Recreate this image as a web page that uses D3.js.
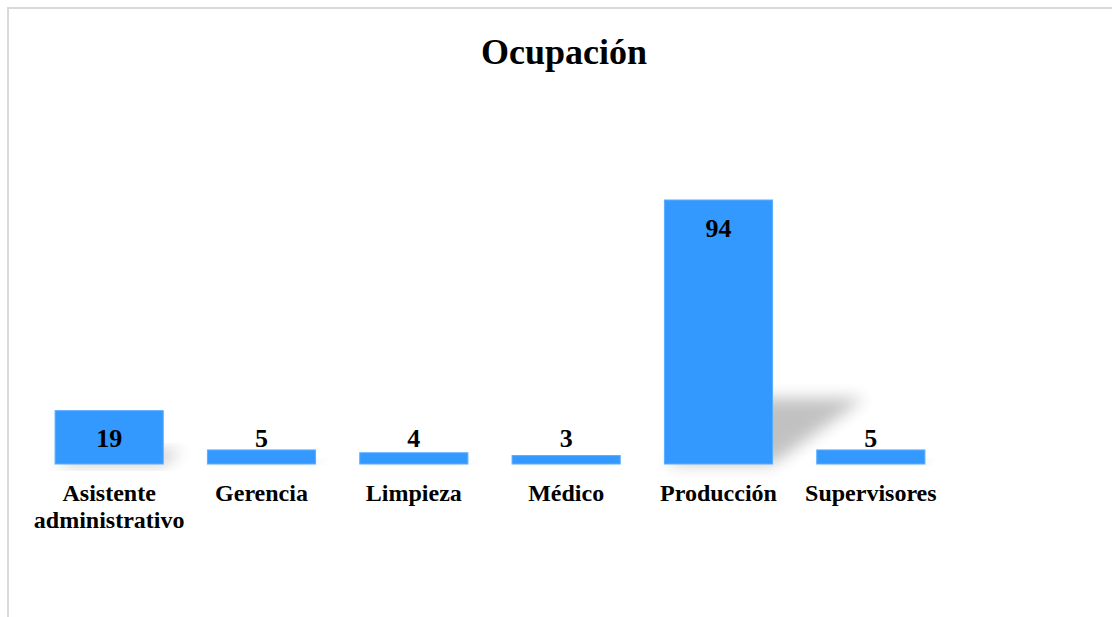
<!DOCTYPE html>
<html lang="es">
<head>
    <meta charset="UTF-8">
    <title>Ocupación</title>
    <script src="https://d3js.org/d3.v7.min.js"></script>
    <style>
        body { margin: 0; background: #fff; }
        text { font-family: "Liberation Serif", "Times New Roman", serif; font-weight: bold; fill: #000; }
    </style>
</head>
<body>
    <svg width="1112" height="617"></svg>

    <script>
        // Data
        const categories = ["Asistente administrativo", "Gerencia", "Limpieza", "Médico", "Producción", "Supervisores"];
        const values = [19, 5, 4, 3, 94, 5];
        const title = "Ocupación";

        const width = 1112, height = 617;
        const margin = { left: 33, right: 165, top: 200, bottom: 153 };
        const baseY = height - margin.bottom; // 464

        const svg = d3.select("svg")
            .attr("width", width)
            .attr("height", height);

        // Outer frame (only top and left visible)
        svg.append("rect")
            .attr("x", 8).attr("y", 8)
            .attr("width", width + 20).attr("height", height + 20)
            .attr("fill", "#fff")
            .attr("stroke", "#d9d9d9")
            .attr("stroke-width", 2);

        // Shadow blur filter
        const defs = svg.append("defs");
        defs.append("filter")
            .attr("id", "blur")
            .attr("x", "-50%").attr("y", "-50%")
            .attr("width", "200%").attr("height", "200%")
            .append("feGaussianBlur")
            .attr("stdDeviation", 8);

        // Scales
        const x = d3.scaleBand()
            .domain(categories)
            .range([margin.left, width - margin.right])
            .paddingInner(0.29)
            .paddingOuter(0.145);

        const y = d3.scaleLinear()
            .domain([0, 94])
            .range([baseY, margin.top]);

        const data = categories.map((c, i) => ({ cat: c, val: values[i] }));

        // Title
        svg.append("text")
            .attr("x", 564)
            .attr("y", 64)
            .attr("text-anchor", "middle")
            .style("font-size", "36px")
            .text(title);

        // Cast shadows (skewed backwards to the right)
        svg.append("g")
            .selectAll("polygon")
            .data(data)
            .join("polygon")
            .attr("fill", "#000")
            .attr("opacity", 0.24)
            .attr("filter", "url(#blur)")
            .attr("points", d => {
                const x0 = x(d.cat), x1 = x0 + x.bandwidth();
                const h = (baseY - y(d.val)) * 0.25;
                const dx = h * 1.4;
                return [[x0, baseY], [x1, baseY], [x1 + dx, baseY - h], [x0 + dx, baseY - h]]
                    .map(p => p.join(",")).join(" ");
            });

        // Bars
        svg.append("g")
            .selectAll("rect")
            .data(data)
            .join("rect")
            .attr("x", d => x(d.cat))
            .attr("y", d => y(d.val))
            .attr("width", x.bandwidth())
            .attr("height", d => baseY - y(d.val))
            .attr("fill", "#3399ff")
            .attr("stroke", "#5aadff")
            .attr("stroke-width", 1);

        // Value labels (inside end, but never lower than a minimum line)
        svg.append("g")
            .selectAll("text")
            .data(data)
            .join("text")
            .attr("x", d => x(d.cat) + x.bandwidth() / 2)
            .attr("y", d => Math.min(y(d.val) + 28, baseY - 26))
            .attr("dy", "0.35em")
            .attr("text-anchor", "middle")
            .style("font-size", "26px")
            .text(d => d.val);

        // Category labels
        const cats = svg.append("g")
            .selectAll("text")
            .data(categories)
            .join("text")
            .attr("x", d => x(d) + x.bandwidth() / 2)
            .attr("y", 501)
            .attr("text-anchor", "middle")
            .style("font-size", "24px");

        cats.each(function (d) {
            const words = d.split(" ");
            const t = d3.select(this);
            words.forEach((w, i) => {
                t.append("tspan")
                    .attr("x", x(d) + x.bandwidth() / 2)
                    .attr("dy", i === 0 ? 0 : 27)
                    .text(w);
            });
        });
    </script>
</body>
</html>
